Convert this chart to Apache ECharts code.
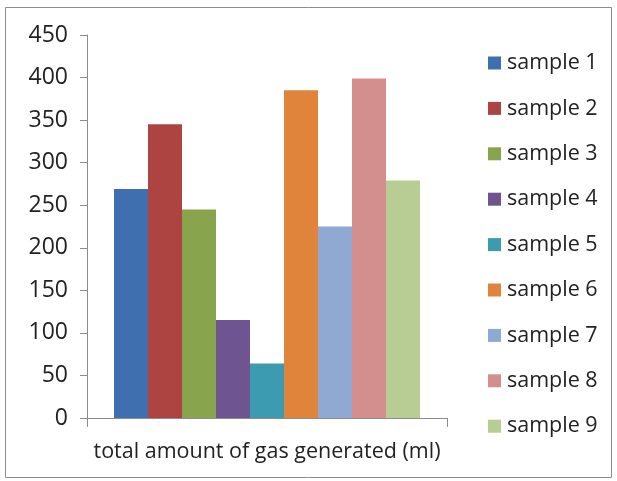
<!DOCTYPE html>
<html>
<head>
<meta charset="utf-8">
<script src="https://cdn.jsdelivr.net/npm/echarts@6/dist/echarts.min.js"></script>
<style>html,body{margin:0;padding:0;background:#fff;}#c{width:617px;height:481px;}</style>
</head>
<body>
<div id="c"></div>
<script>
const categories = ["total amount of gas generated (ml)"];
const seriesNames = ["sample 1","sample 2","sample 3","sample 4","sample 5","sample 6","sample 7","sample 8","sample 9"];
const seriesValues = [269, 345, 245, 115, 64, 385, 225, 399, 279];
const colors = ["#3F6FAE","#AE4442","#88A44C","#6E5592","#3C9BB0","#E0843C","#8FA9D3","#D38F8E","#B7CD93"];
const yTicks = {min: 0, max: 450, interval: 50};

const chart = echarts.init(document.getElementById('c'), null, {renderer: 'canvas'});
const font = "'Open Sans', sans-serif";
chart.setOption({
  animation: false,
  backgroundColor: '#fff',
  color: colors,
  textStyle: {fontFamily: font},
  graphic: [{
    type: 'rect', shape: {x: 5.5, y: 7.5, width: 606, height: 470},
    style: {fill: null, stroke: '#8c8c8c', lineWidth: 1}, silent: true
  }],
  grid: {left: 87, top: 35, width: 360, height: 383, containLabel: false},
  legend: {
    orient: 'vertical', left: 488, top: 52, padding: 0, itemWidth: 13, itemHeight: 13, itemGap: 23.4,
    icon: 'rect',
    textStyle: {fontFamily: font, fontSize: 21.5, lineHeight: 22, color: '#222', padding: [0,0,0,1]},
    data: seriesNames
  },
  xAxis: {
    type: 'category', data: categories,
    axisLine: {lineStyle: {color: '#8c8c8c', width: 1}},
    axisTick: {show: true, length: 9, lineStyle: {color: '#8c8c8c'}},
    axisLabel: {fontFamily: font, fontSize: 21.5, color: '#222', margin: 23}
  },
  yAxis: {
    type: 'value', min: yTicks.min, max: yTicks.max, interval: yTicks.interval,
    axisLine: {show: true, lineStyle: {color: '#8c8c8c', width: 1}},
    axisTick: {show: true, length: 7, lineStyle: {color: '#8c8c8c'}},
    splitLine: {show: false},
    axisLabel: {fontFamily: font, fontSize: 23, color: '#222', margin: 19}
  },
  series: seriesNames.map((n, i) => ({
    name: n, type: 'bar', data: [seriesValues[i]],
    barGap: '0%', barCategoryGap: '15%'
  }))
});
</script>
</body>
</html>
